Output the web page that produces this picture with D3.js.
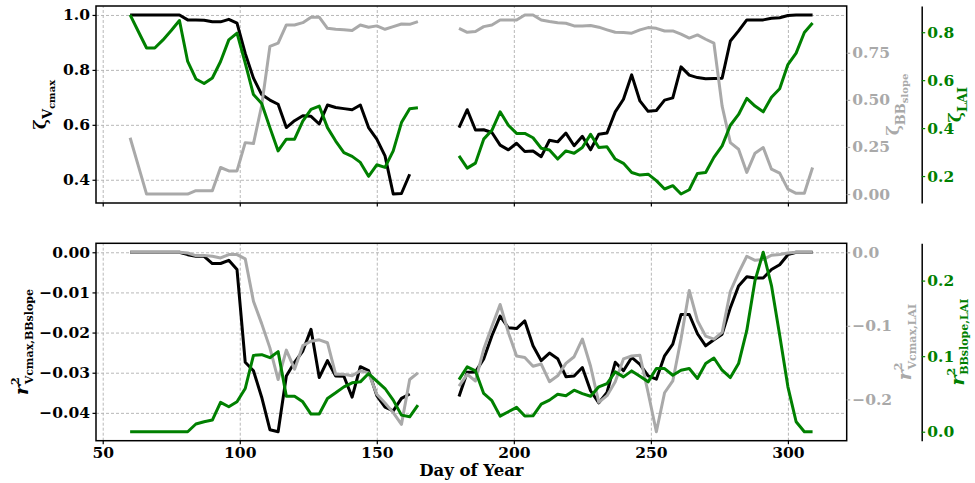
<!DOCTYPE html>
<html>
<head>
<meta charset="utf-8">
<script src="https://cdn.jsdelivr.net/npm/d3@7"></script>
<style>
  body { margin: 0; background: #fff; }
  svg { display: block; font-family: "DejaVu Serif", serif; font-weight: bold; }
  .grid line { stroke: #b0b0b0; stroke-dasharray: 3,2; stroke-width: 0.9; }
  .grid path { display: none; }
  .line { fill: none; stroke-width: 3; stroke-linejoin: round; }
</style>
</head>
<body>
<svg id="chart" width="975" height="483"></svg>
<script>
// day of year, gap (nulls) between 168 and 177
const days = [
  60, 63, 66, 69, 72, 75, 78, 81, 84, 87, 90, 93, 96, 99, 102, 105, 108, 111,
  114, 117, 120, 123, 126, 129, 132, 135, 138, 141, 144, 147, 150, 153, 156, 159, 162, 165,
  168, 171, 174, 177,
  180, 183, 186, 189, 192, 195, 198, 201, 204, 207, 210, 213, 216, 219, 222, 225,
  228, 231, 234, 237, 240, 243, 246, 249, 252, 255, 258, 261, 264, 267, 270, 273,
  276, 279, 282, 285, 288, 291, 294, 297, 300, 303, 306, 309
]

// top panel
const zetaVcmax = [
  1.0, 1.0, 1.0, 1.0, 1.0, 1.0, 1.0, 0.982, 0.982, 0.981, 0.975, 0.975, 0.984, 0.97, 0.86, 0.77, 0.71, 0.69,
  0.675, 0.59, 0.615, 0.633, 0.631, 0.603, 0.672, 0.663, 0.659, 0.655, 0.672, 0.59, 0.548, 0.487, 0.348, 0.35, 0.42, null,
  null, null, null, null,
  0.590, 0.655, 0.581, 0.582, 0.572, 0.526, 0.509, 0.533, 0.503, 0.505, 0.484, 0.544, 0.538, 0.570, 0.524, 0.558,
  0.509, 0.566, 0.570, 0.647, 0.693, 0.782, 0.687, 0.649, 0.652, 0.690, 0.698, 0.811, 0.781, 0.772, 0.768, 0.769,
  0.770, 0.905, 0.942, 0.982, 0.982, 0.982, 0.988, 0.990, 0.998, 1.0, 1.0, 1.0
]
const zetaBBslope = [
  0.299, 0.150, 0, 0, 0, 0, 0, 0, 0.018, 0.018, 0.018, 0.141, 0.123, 0.123, 0.273, 0.268, 0.47, 0.784,
  0.801, 0.898, 0.898, 0.91, 0.939, 0.939, 0.880, 0.875, 0.872, 0.868, 0.898, 0.886, 0.893, 0.875, 0.889, 0.903, 0.901, 0.916,
  null, null, null, null,
  0.880, 0.859, 0.863, 0.889, 0.898, 0.924, 0.924, 0.924, 0.951, 0.951, 0.924, 0.916, 0.910, 0.907, 0.893, 0.893,
  0.895, 0.886, 0.872, 0.859, 0.858, 0.854, 0.872, 0.884, 0.880, 0.866, 0.866, 0.849, 0.828, 0.845, 0.822, 0.801,
  0.467, 0.273, 0.238, 0.115, 0.217, 0.247, 0.132, 0.111, 0.026, 0.004, 0.004, 0.141
]
const zetaLAI = [
  0.872, 0.803, 0.734, 0.734, 0.768, 0.807, 0.849, 0.678, 0.605, 0.586, 0.609, 0.678, 0.768, 0.796, 0.671, 0.540, 0.503, 0.402,
  0.305, 0.354, 0.354, 0.429, 0.478, 0.492, 0.402, 0.346, 0.298, 0.282, 0.257, 0.199, 0.247, 0.236, 0.305, 0.423, 0.481, 0.485,
  null, null, null, null,
  0.284, 0.233, 0.254, 0.354, 0.391, 0.468, 0.412, 0.378, 0.378, 0.360, 0.316, 0.309, 0.271, 0.305, 0.295, 0.319,
  0.374, 0.319, 0.322, 0.271, 0.253, 0.215, 0.204, 0.208, 0.181, 0.146, 0.160, 0.125, 0.143, 0.211, 0.215, 0.278,
  0.326, 0.412, 0.457, 0.524, 0.492, 0.468, 0.529, 0.564, 0.665, 0.713, 0.799, 0.838
]

// bottom panel
const r2VcmaxBB = [
  0, 0, 0, 0, 0, 0, 0, -0.0006, -0.001, -0.001, -0.0028, -0.0028, -0.002, -0.0043, -0.0274, -0.0295, -0.0361, -0.0442,
  -0.0447, -0.0308, -0.0274, -0.0246, -0.0192, -0.0312, -0.0270, -0.0308, -0.0309, -0.0361, -0.0285, -0.0295, -0.0357, -0.0386, -0.0395, -0.0364, -0.0353, null,
  null, null, null, null,
  -0.0359, -0.0299, -0.0298, -0.0266, -0.0208, -0.0159, -0.0188, -0.0190, -0.0171, -0.0233, -0.0270, -0.0251, -0.0265, -0.0310, -0.0308, -0.0287,
  -0.0345, -0.0375, -0.0349, -0.0274, -0.0295, -0.0262, -0.0279, -0.0308, -0.0316, -0.0258, -0.0229, -0.0155, -0.0155, -0.0203, -0.0233, -0.0218,
  -0.0204, -0.0138, -0.0084, -0.0061, -0.0064, -0.0064, -0.0043, -0.0031, -0.0006, 0, 0, 0
]
const r2VcmaxLAI = [
  0, 0, 0, 0, 0, 0, 0, -0.001, -0.0045, -0.0045, -0.0054, -0.0077, -0.0031, -0.0031, -0.009, -0.0665, -0.097, -0.130,
  -0.173, -0.133, -0.159, -0.127, -0.121, -0.119, -0.123, -0.166, -0.166, -0.168, -0.161, -0.164, -0.193, -0.205, -0.218, -0.234, -0.173, -0.164,
  null, null, null, null,
  -0.182, -0.166, -0.175, -0.132, -0.101, -0.071, -0.109, -0.141, -0.143, -0.155, -0.152, -0.176, -0.168, -0.151, -0.142, -0.118,
  -0.155, -0.204, -0.195, -0.176, -0.145, -0.141, -0.140, -0.191, -0.244, -0.191, -0.175, -0.118, -0.052, -0.093, -0.114, -0.118,
  -0.109, -0.053, -0.028, -0.0054, -0.011, -0.0099, -0.004, -0.003, -0.0009, 0, 0, 0
]
const r2BBLAI = [
  0, 0, 0, 0, 0, 0, 0, 0, 0.0102, 0.0132, 0.0154, 0.0388, 0.033, 0.0396, 0.0572, 0.101, 0.102, 0.098,
  0.106, 0.047, 0.047, 0.0396, 0.0234, 0.0234, 0.044, 0.0515, 0.0594, 0.0647, 0.066, 0.077, 0.0669, 0.0572, 0.0418, 0.022, 0.0198, 0.0352,
  null, null, null, null,
  0.069, 0.0858, 0.0805, 0.0506, 0.041, 0.0207, 0.0264, 0.0322, 0.0207, 0.021, 0.0365, 0.0418, 0.0497, 0.0475, 0.055, 0.0505,
  0.047, 0.0594, 0.0638, 0.0792, 0.0726, 0.0805, 0.0735, 0.066, 0.0836, 0.0836, 0.0748, 0.0814, 0.0836, 0.0704, 0.0902, 0.0976,
  0.0814, 0.0717, 0.0902, 0.134, 0.200, 0.2375, 0.1935, 0.1276, 0.0594, 0.0132, 0, 0
]

// tick values
const xTicks = [50, 100, 150, 200, 250, 300]
const topLeftTicks = [0.4, 0.6, 0.8, 1.0]
const topRightTicks = [0, 0.25, 0.5, 0.75]
const topOuterTicks = [0.2, 0.4, 0.6, 0.8]
const botLeftTicks = [0, -0.01, -0.02, -0.03, -0.04]
const botRightTicks = [0, -0.1, -0.2]
const botOuterTicks = [0, 0.1, 0.2]

const plotLeft = 96, plotRight = 846.7, outerX = 921.7
const tickFont = 15.5

// matplotlib style autoscale: data extent plus 5% each side
const pad = (vals) => {
  const [lo, hi] = d3.extent(vals.filter(v => v != null))
  const m = (hi - lo) * 0.05
  return [lo - m, hi + m]
}

const x = d3.scaleLinear().domain(pad(days)).range([plotLeft, plotRight])
const svg = d3.select("#chart")

const styleAxis = (a, color) => {
  a.attr("font-size", tickFont).attr("font-family", '"DejaVu Serif", serif').attr("font-weight", "bold")
  a.selectAll("text").attr("fill", color)
  a.selectAll(".tick line").attr("stroke", color).attr("stroke-width", 1.2)
}

const addLabel = (lx, ly, color, parts) => {
  const t = svg.append("text")
    .attr("transform", `translate(${lx},${ly}) rotate(-90)`)
    .attr("text-anchor", "middle")
    .attr("fill", color)
  parts.forEach(p => {
    t.append("tspan")
      .attr("font-size", p.size)
      .attr("dx", p.dx || 0)
      .attr("dy", p.dy || 0)
      .attr("font-style", p.italic ? "italic" : null)
      .text(p.t)
  })
}

const panels = [
  {
    top: 6, bottom: 203, xLabels: false,
    left:  { values: zetaVcmax,   ticks: topLeftTicks,  fmt: ".1f", color: "#000" },
    right: { values: zetaBBslope, ticks: topRightTicks, fmt: ".2f", color: "darkgray" },
    outer: { values: zetaLAI,     ticks: topOuterTicks, fmt: ".1f", color: "green" }
  },
  {
    top: 243.3, bottom: 440.7, xLabels: true,
    left:  { values: r2VcmaxBB,  ticks: botLeftTicks,  fmt: ".2f", color: "#000" },
    right: { values: r2VcmaxLAI, ticks: botRightTicks, fmt: ".1f", color: "darkgray" },
    outer: { values: r2BBLAI,    ticks: botOuterTicks, fmt: ".1f", color: "green" }
  }
]

panels.forEach(p => {
  const g = svg.append("g")
  const yL = d3.scaleLinear().domain(pad(p.left.values)).range([p.bottom, p.top])
  const yR = d3.scaleLinear().domain(pad(p.right.values)).range([p.bottom, p.top])
  const yO = d3.scaleLinear().domain(pad(p.outer.values)).range([p.bottom, p.top])

  // gridlines
  g.append("g")
      .attr("class", "grid")
      .attr("transform", `translate(0,${p.bottom})`)
      .call(d3.axisBottom(x).tickValues(xTicks).tickSize(-(p.bottom - p.top)).tickFormat(""))
  g.append("g")
      .attr("class", "grid")
      .attr("transform", `translate(${plotLeft},0)`)
      .call(d3.axisLeft(yL).tickValues(p.left.ticks).tickSize(-(plotRight - plotLeft)).tickFormat(""))

  // lines: primary, twin, offset twin
  ;[[p.left, yL], [p.right, yR], [p.outer, yO]].forEach(([s, y]) => {
    const line = d3.line()
        .defined((d, i) => s.values[i] != null)
        .x(d => x(d))
        .y((d, i) => y(s.values[i]))
    g.append("path")
        .attr("class", "line")
        .attr("stroke", s.color)
        .attr("d", line(days))
  })

  // frame
  g.append("rect")
      .attr("x", plotLeft).attr("y", p.top)
      .attr("width", plotRight - plotLeft).attr("height", p.bottom - p.top)
      .attr("fill", "none").attr("stroke", "#000").attr("stroke-width", 1.5)

  // x axis
  g.append("g")
      .attr("transform", `translate(0,${p.bottom})`)
      .call(d3.axisBottom(x).tickValues(xTicks).tickSize(3.5).tickPadding(2.5)
        .tickFormat(p.xLabels ? d3.format("d") : ""))
      .call(a => a.select(".domain").remove())
      .call(a => styleAxis(a, "#000"))

  // left axis
  g.append("g")
      .attr("transform", `translate(${plotLeft},0)`)
      .call(d3.axisLeft(yL).tickValues(p.left.ticks).tickFormat(d3.format(p.left.fmt)).tickSize(3.5).tickPadding(2.5))
      .call(a => a.select(".domain").remove())
      .call(a => styleAxis(a, p.left.color))

  // right twin axis
  g.append("g")
      .attr("transform", `translate(${plotRight},0)`)
      .call(d3.axisRight(yR).tickValues(p.right.ticks).tickFormat(d3.format(p.right.fmt)).tickSize(3.5).tickPadding(2))
      .call(a => a.select(".domain").remove())
      .call(a => styleAxis(a, p.right.color))

  // offset twin axis with its own spine
  g.append("g")
      .attr("transform", `translate(${outerX},0)`)
      .call(d3.axisRight(yO).tickValues(p.outer.ticks).tickFormat(d3.format(p.outer.fmt))
        .tickSize(3.5).tickPadding(2).tickSizeOuter(0))
      .call(a => a.select(".domain").attr("stroke", "#000").attr("stroke-width", 1.5))
      .call(a => styleAxis(a, p.outer.color))
})

// axis labels
const topMid = (6 + 203) / 2, botMid = (243.3 + 440.7) / 2

addLabel(46, topMid, "#000", [
  { t: "ζ", size: 17 }, { t: "V", size: 13, dy: 6 }, { t: "cmax", size: 10, dy: 3 }
])
addLabel(899, topMid, "darkgray", [
  { t: "ζ", size: 17 }, { t: "BB", size: 13, dy: 6 }, { t: "slope", size: 10, dy: 3 }
])
addLabel(961, topMid, "green", [
  { t: "ζ", size: 17 }, { t: "LAI", size: 13, dy: 6 }
])
addLabel(28, botMid, "#000", [
  { t: "r", size: 19, italic: true }, { t: "2", size: 11, dy: -9 },
  { t: "Vcmax,BBslope", size: 11, dx: -7, dy: 14 }
])
addLabel(911, botMid, "darkgray", [
  { t: "r", size: 19, italic: true }, { t: "2", size: 11, dy: -9 },
  { t: "Vcmax,LAI", size: 11, dx: -7, dy: 14 }
])
addLabel(964, botMid, "green", [
  { t: "r", size: 19, italic: true }, { t: "2", size: 11, dy: -9 },
  { t: "BBslope,LAI", size: 11, dx: -7, dy: 13 }
])

svg.append("text")
    .attr("x", (plotLeft + plotRight) / 2)
    .attr("y", 476)
    .attr("text-anchor", "middle")
    .attr("font-size", 16.5)
    .text("Day of Year")
</script>
</body>
</html>
